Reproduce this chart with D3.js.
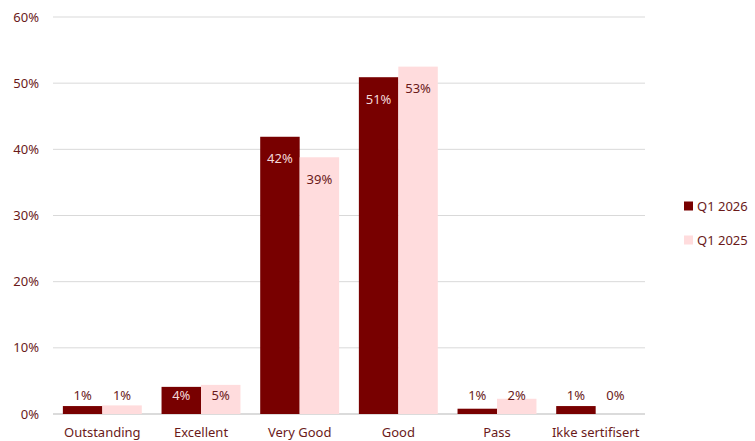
<!DOCTYPE html>
<html>
<head>
<meta charset="utf-8">
<script src="https://cdn.jsdelivr.net/npm/d3@7"></script>
<style>
  body { margin: 0; background: #fff; }
  svg text { font-family: "Noto Sans", "Open Sans", sans-serif; }
</style>
</head>
<body>
<div id="chart"></div>
<script>
const categories = ["Outstanding", "Excellent", "Very Good", "Good", "Pass", "Ikke sertifisert"];
const seriesNames = ["Q1 2026", "Q1 2025"];
const q1_2026 = [1.2, 4.1, 41.9, 50.9, 0.8, 1.2];
const q1_2025 = [1.3, 4.4, 38.8, 52.5, 2.3, 0];
const labels2026 = ["1%", "4%", "42%", "51%", "1%", "1%"];
const labels2025 = ["1%", "5%", "39%", "53%", "2%", "0%"];
const yTicks = [0, 10, 20, 30, 40, 50, 60];

const width = 755;
const height = 441;
const marginTop = 17;
const marginRight = 110;
const marginBottom = 27;
const marginLeft = 53;

const darkColor = "#780000";
const lightColor = "#ffdcdd";
const textColor = "#6a1a1a";

const svg = d3.select("#chart")
    .append("svg")
    .attr("width", width)
    .attr("height", height);

const x = d3.scaleBand()
    .domain(categories)
    .range([marginLeft, width - marginRight])
    .paddingInner(0.2)
    .paddingOuter(0.1);

const xSub = d3.scaleBand()
    .domain(seriesNames)
    .range([0, x.bandwidth()]);

const y = d3.scaleLinear()
    .domain([0, 60])
    .range([height - marginBottom, marginTop]);

// gridlines
svg.append("g")
    .selectAll("line")
    .data(yTicks)
    .join("line")
    .attr("x1", marginLeft)
    .attr("x2", width - marginRight)
    .attr("y1", d => y(d))
    .attr("y2", d => y(d))
    .attr("stroke", d => d === 0 ? "#cfcfcf" : "#d9d9d9")
    .attr("stroke-width", d => d === 0 ? 1.5 : 1);

// y labels
svg.append("g")
    .selectAll("text")
    .data(yTicks)
    .join("text")
    .attr("x", 39)
    .attr("y", d => y(d))
    .attr("dy", "0.35em")
    .attr("text-anchor", "end")
    .attr("font-size", 13)
    .attr("fill", textColor)
    .text(d => d + "%");

const rows = categories.map((c, i) => ({
    cat: c,
    vals: [
        {s: seriesNames[0], v: q1_2026[i], label: labels2026[i], color: darkColor},
        {s: seriesNames[1], v: q1_2025[i], label: labels2025[i], color: lightColor}
    ]
}));

const groups = svg.append("g")
    .selectAll("g")
    .data(rows)
    .join("g")
    .attr("transform", d => `translate(${x(d.cat)},0)`);

groups.selectAll("rect")
    .data(d => d.vals)
    .join("rect")
    .attr("x", d => xSub(d.s))
    .attr("y", d => y(d.v))
    .attr("width", xSub.bandwidth())
    .attr("height", d => y(0) - y(d.v))
    .attr("fill", d => d.color);

// data labels: inside end, pushed above for short bars
const labelY = d => Math.min(y(d.v) + 22, y(0) - 19);
groups.selectAll("text")
    .data(d => d.vals)
    .join("text")
    .attr("x", d => xSub(d.s) + xSub.bandwidth() / 2)
    .attr("y", labelY)
    .attr("dy", "0.35em")
    .attr("text-anchor", "middle")
    .attr("font-size", 13)
    .attr("fill", d => (d.color === darkColor && labelY(d) > y(d.v) + 5) ? "#f3d9d9" : textColor)
    .text(d => d.label);

// category labels
svg.append("g")
    .selectAll("text")
    .data(categories)
    .join("text")
    .attr("x", d => x(d) + x.bandwidth() / 2)
    .attr("y", height - 9)
    .attr("dy", "0.35em")
    .attr("text-anchor", "middle")
    .attr("font-size", 13)
    .attr("fill", textColor)
    .text(d => d);

// legend
const legend = svg.append("g")
    .selectAll("g")
    .data(seriesNames)
    .join("g")
    .attr("transform", (d, i) => `translate(684,${206 + i * 34})`);

legend.append("rect")
    .attr("x", 0)
    .attr("y", -4.5)
    .attr("width", 9)
    .attr("height", 9)
    .attr("fill", (d, i) => i === 0 ? darkColor : lightColor);

legend.append("text")
    .attr("x", 13)
    .attr("y", 0)
    .attr("dy", "0.35em")
    .attr("font-size", 13)
    .attr("fill", textColor)
    .text(d => d);
</script>
</body>
</html>
